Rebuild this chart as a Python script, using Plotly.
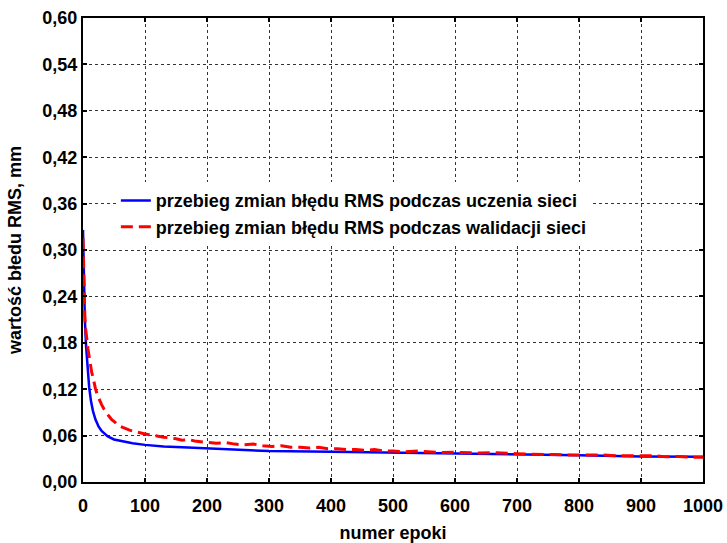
import plotly.graph_objects as go

# training RMS error curve (blue, solid)
epochs_train = [0, 1, 2, 3, 5, 7, 10, 13, 16, 20, 25, 30, 40, 50, 60, 80, 100, 130, 160,
                200, 250, 300, 400, 500, 600, 700, 800, 900, 1000]
rms_train = [0.326, 0.27, 0.235, 0.21, 0.175, 0.150, 0.122, 0.104, 0.092, 0.081, 0.072,
             0.066, 0.059, 0.055, 0.053, 0.050, 0.048, 0.046, 0.045, 0.0435, 0.0415,
             0.040, 0.039, 0.038, 0.0365, 0.036, 0.0345, 0.033, 0.0327]

# validation RMS error curve (red, dashed)
epochs_val = [0, 1, 2, 3, 4, 5, 6, 8, 10, 12, 14, 16, 18, 20, 23, 26, 30, 34, 38, 42, 46,
              50, 55, 60, 65, 70, 75, 80, 90, 100, 110, 120, 130, 140, 150, 160, 170, 180,
              190, 200, 215, 230, 245, 260, 275, 290, 305, 320, 335, 350, 365, 380, 395,
              410, 425, 440, 455, 470, 485, 500, 520, 540, 560, 580, 600, 620, 640, 660,
              680, 700, 720, 740, 760, 780, 800, 820, 840, 860, 880, 900, 920, 940, 960,
              980, 1000]
rms_val = [0.315, 0.27, 0.232, 0.215, 0.20, 0.19, 0.18, 0.172, 0.162, 0.150, 0.142, 0.136,
           0.128, 0.121, 0.113, 0.107, 0.100, 0.094, 0.089, 0.085, 0.081, 0.078, 0.075,
           0.072, 0.070, 0.068, 0.067, 0.066, 0.064, 0.062, 0.061, 0.059, 0.058, 0.057,
           0.056, 0.054, 0.055, 0.053, 0.052, 0.051, 0.050, 0.051, 0.049, 0.048, 0.049,
           0.047, 0.046, 0.047, 0.045, 0.045, 0.044, 0.045, 0.043, 0.043, 0.042, 0.042,
           0.041, 0.042, 0.040, 0.040, 0.039, 0.040, 0.039, 0.038, 0.0385, 0.038, 0.0375,
           0.038, 0.037, 0.0365, 0.036, 0.036, 0.0355, 0.035, 0.035, 0.0345, 0.035, 0.034,
           0.034, 0.0335, 0.034, 0.0325, 0.033, 0.032, 0.032]

x_ticks = [0, 100, 200, 300, 400, 500, 600, 700, 800, 900, 1000]
y_ticks = [0.00, 0.06, 0.12, 0.18, 0.24, 0.30, 0.36, 0.42, 0.48, 0.54, 0.60]
y_tick_text = ["0,00", "0,06", "0,12", "0,18", "0,24", "0,30", "0,36", "0,42", "0,48",
               "0,54", "0,60"]

name_train = "przebieg zmian błędu RMS podczas uczenia sieci"
name_val = "przebieg zmian błędu RMS podczas walidacji sieci"

FONT = "Liberation Sans, Arial, sans-serif"

fig = go.Figure()
fig.add_trace(go.Scatter(x=epochs_train, y=rms_train, mode="lines", name=name_train,
                         line=dict(color="#0000ff", width=2.5)))
fig.add_trace(go.Scatter(x=epochs_val, y=rms_val, mode="lines", name=name_val,
                         line=dict(color="#ff0000", width=3, dash="12px,6px")))

axis_common = dict(
    showline=True, linecolor="black", linewidth=2, mirror="ticks",
    ticks="inside", ticklen=4, tickwidth=1.5, tickcolor="black",
    showgrid=True, gridcolor="#333333", griddash="dot", gridwidth=1,
    zeroline=False, automargin=False,
    tickfont=dict(family=FONT, size=18, color="black", weight="bold"),
)

fig.update_layout(
    width=727, height=543,
    margin=dict(l=83, r=24, t=18, b=61),
    paper_bgcolor="white", plot_bgcolor="white",
    font=dict(family=FONT, color="black"),
    showlegend=True,
    legend=dict(x=0.053, y=0.646, xanchor="left", yanchor="top",
                bgcolor="white", borderwidth=0,
                font=dict(family=FONT, size=18, color="black", weight="bold")),
    xaxis=dict(range=[0, 1000], tickvals=x_ticks, ticktext=[str(v) for v in x_ticks],
               ticklabelstandoff=6,
               title=dict(text="numer epoki", standoff=19,
                          font=dict(family=FONT, size=18, color="black", weight="bold")),
               **axis_common),
    yaxis=dict(range=[0, 0.60], tickvals=y_ticks, ticktext=y_tick_text,
               title=dict(text="wartość błedu RMS, mm", standoff=16,
                          font=dict(family=FONT, size=18, color="black", weight="bold")),
               **axis_common),
)

fig.write_html("out.html")
